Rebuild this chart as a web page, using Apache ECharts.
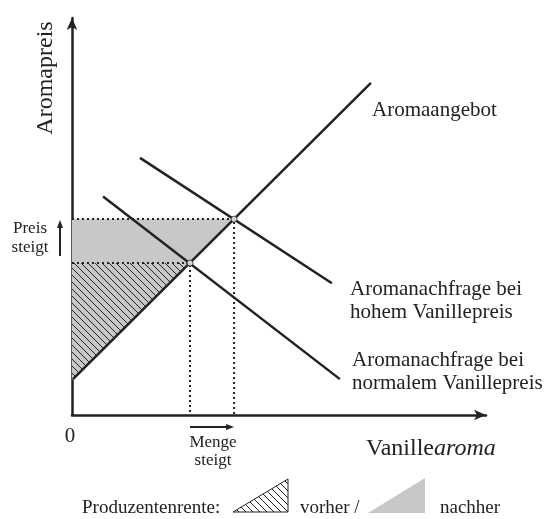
<!DOCTYPE html>
<html><head><meta charset="utf-8">
<script src="https://cdn.jsdelivr.net/npm/echarts@6/dist/echarts.min.js"></script>
<style>html,body{margin:0;padding:0;background:#fff}#c{width:560px;height:519px}</style>
</head><body><div id="c"></div>
<script>
// ---- data (quantity x, price y) in chart units ----
const supplyX = [0.24, 71.2];
const supplyY = [8.9, 82.4];
const demandNormalX = [7.4, 63.8];
const demandNormalY = [54.2, 8.9];
const demandHighX = [16.2, 61.9];
const demandHighY = [63.8, 32.7];
const eqX = [28.1, 38.6];   // before, after
const eqY = [37.7, 48.6];
const xTickLabels = ['0'];
const axisTitles = ['Aromapreis', 'Vanille', 'aroma'];
const curveLabels = ['Aromaangebot', 'Aromanachfrage bei\nhohem Vanillepreis', 'Aromanachfrage bei\nnormalem Vanillepreis'];
const changeLabels = ['Preis\nsteigt', 'Menge\nsteigt'];
const legendLabels = ['Produzentenrente:', 'vorher /', 'nachher'];

const FONT = '"Liberation Serif","Times New Roman",serif';
const INK = '#222';
const GREY = '#c8c8c8';

function hatchPattern(bg) {
  const s = 7, c = document.createElement('canvas');
  c.width = s; c.height = s;
  const g = c.getContext('2d');
  g.fillStyle = bg; g.fillRect(0, 0, s, s);
  g.strokeStyle = INK; g.lineWidth = 1;
  g.beginPath();
  g.moveTo(-1, -1); g.lineTo(s + 1, s + 1);
  g.moveTo(-1, s - 1); g.lineTo(1, s + 1);
  g.moveTo(s - 1, -1); g.lineTo(s + 1, 1);
  g.stroke();
  return { type: 'pattern', image: c, repeat: 'repeat' };
}
const hatchGrey = hatchPattern(GREY);
const hatchWhite = hatchPattern('#fff');

const areaAfter = [[0, eqY[1]], [eqX[1], eqY[1]], [supplyX[0], supplyY[0]], [0, supplyY[0]]];
const areaBefore = [[0, eqY[0]], [eqX[0], eqY[0]], [supplyX[0], supplyY[0]], [0, supplyY[0]]];

const chart = echarts.init(document.getElementById('c'), null, { renderer: 'canvas' });

function polySeries(points, fill, z) {
  return {
    type: 'custom', coordinateSystem: 'cartesian2d', silent: true, clip: false, z: z,
    data: [[0, 0]],
    renderItem: (p, api) => ({ type: 'polygon', shape: { points: points.map(q => api.coord(q)) }, style: { fill: fill } })
  };
}
function straight(xs, ys) {
  return {
    type: 'line', data: xs.map((x, i) => [x, ys[i]]), symbol: 'none', silent: true, z: 5,
    lineStyle: { color: INK, width: 2.5 }
  };
}

const axisCommon = {
  type: 'value', min: 0,
  axisLine: { show: true, symbol: ['none', 'arrow'], symbolSize: [8, 12], lineStyle: { color: INK, width: 2.5 } },
  axisTick: { show: false }, axisLabel: { show: false }, splitLine: { show: false }
};

const option = {
  animation: false,
  backgroundColor: '#fff',
  grid: { left: 72, right: 74, top: 18, bottom: 104 },
  xAxis: Object.assign({}, axisCommon, { max: 98.6 }),
  yAxis: Object.assign({}, axisCommon, { max: 98.5 }),
  series: [
    polySeries(areaAfter, GREY, 1),
    polySeries(areaBefore, hatchGrey, 2),
    {
      type: 'custom', coordinateSystem: 'cartesian2d', silent: true, clip: false, z: 3,
      data: [[0, 0]],
      renderItem: (p, api) => {
        const ch = [];
        for (let i = 0; i < 2; i++) {
          const a = api.coord([0, eqY[i]]), b = api.coord([eqX[i], eqY[i]]), c = api.coord([eqX[i], 0]);
          ch.push({ type: 'polyline', shape: { points: [a, b, c] }, style: { stroke: INK, lineWidth: 2, lineDash: [2, 3], fill: null } });
        }
        // arrows: price rises, quantity rises
        const p0 = api.coord([0, eqY[0]]), p1 = api.coord([0, eqY[1]]);
        const ax = p0[0] - 12;
        ch.push({ type: 'line', shape: { x1: ax, y1: p0[1] - 7, x2: ax, y2: p1[1] + 6 }, style: { stroke: INK, lineWidth: 2 } });
        ch.push({ type: 'polygon', shape: { points: [[ax, p1[1] + 1], [ax - 3, p1[1] + 9], [ax + 3, p1[1] + 9]] }, style: { fill: INK } });
        const q0 = api.coord([eqX[0], 0]), q1 = api.coord([eqX[1], 0]);
        const ay = q0[1] + 12;
        ch.push({ type: 'line', shape: { x1: q0[0], y1: ay, x2: q1[0] - 6, y2: ay }, style: { stroke: INK, lineWidth: 2 } });
        ch.push({ type: 'polygon', shape: { points: [[q1[0], ay], [q1[0] - 8, ay - 3], [q1[0] - 8, ay + 3]] }, style: { fill: INK } });
        return { type: 'group', children: ch };
      }
    },
    straight(supplyX, supplyY),
    straight(demandNormalX, demandNormalY),
    straight(demandHighX, demandHighY),
    {
      type: 'scatter', z: 6, silent: true, symbol: 'circle', symbolSize: 6,
      data: eqX.map((x, i) => [x, eqY[i]]),
      itemStyle: { color: '#fff', borderColor: INK, borderWidth: 1 }
    }
  ],
  graphic: [
    { type: 'text', x: 46, y: 78, rotation: Math.PI / 2, style: { text: axisTitles[0], font: '24px ' + FONT, fill: INK, align: 'center', verticalAlign: 'middle' } },
    { type: 'text', x: 70, y: 436, style: { text: xTickLabels[0], font: '21px ' + FONT, fill: INK, align: 'center', verticalAlign: 'middle' } },
    { type: 'text', x: 366, y: 449, style: {
        text: '{a|' + axisTitles[1] + '}{b|' + axisTitles[2] + '}', verticalAlign: 'middle', align: 'left',
        rich: { a: { font: '24px ' + FONT, fill: INK }, b: { font: 'italic 24px ' + FONT, fill: INK } } } },
    { type: 'text', x: 372, y: 110, style: { text: curveLabels[0], font: '21px ' + FONT, fill: INK, verticalAlign: 'middle' } },
    { type: 'text', x: 350, y: 301, style: { text: curveLabels[1], font: '21px ' + FONT, fill: INK, verticalAlign: 'middle', lineHeight: 23 } },
    { type: 'text', x: 352, y: 372, style: { text: curveLabels[2], font: '21px ' + FONT, fill: INK, verticalAlign: 'middle', lineHeight: 23 } },
    { type: 'text', x: 30, y: 238, style: { text: changeLabels[0], font: '17px ' + FONT, fill: INK, align: 'center', verticalAlign: 'middle', lineHeight: 19 } },
    { type: 'text', x: 213, y: 452, style: { text: changeLabels[1], font: '17px ' + FONT, fill: INK, align: 'center', verticalAlign: 'middle', lineHeight: 18 } },
    { type: 'text', x: 82, y: 508, style: { text: legendLabels[0], font: '19px ' + FONT, fill: INK, verticalAlign: 'middle' } },
    { type: 'polygon', shape: { points: [[233, 512], [288, 479], [288, 512]] }, style: { fill: hatchWhite, stroke: INK, lineWidth: 1 } },
    { type: 'text', x: 300, y: 508, style: { text: legendLabels[1], font: '19px ' + FONT, fill: INK, verticalAlign: 'middle' } },
    { type: 'polygon', shape: { points: [[368, 513], [425, 478], [425, 513]] }, style: { fill: GREY } },
    { type: 'text', x: 440, y: 508, style: { text: legendLabels[2], font: '19px ' + FONT, fill: INK, verticalAlign: 'middle' } }
  ]
};
chart.setOption(option);
</script>
</body></html>
